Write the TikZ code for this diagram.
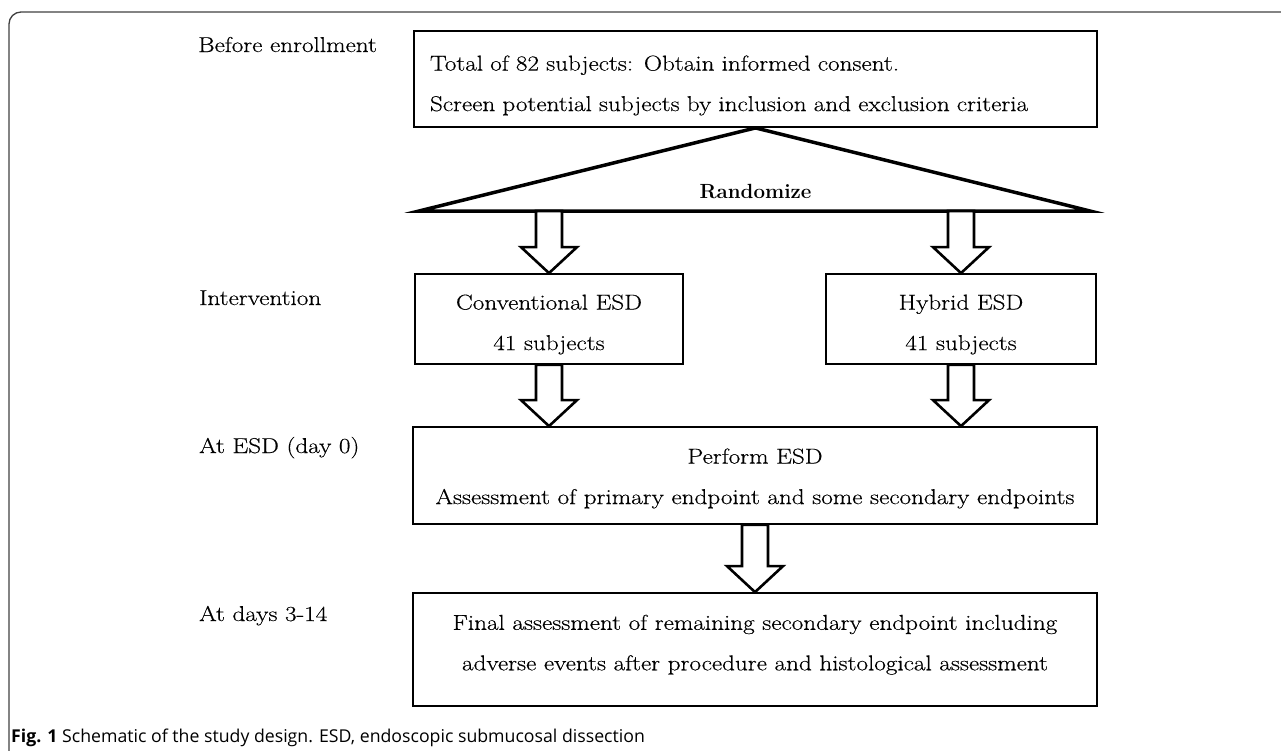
\documentclass[tikz,border=0pt]{standalone}
\usepackage{fontspec}
\newfontfamily\capfont{Open Sans}
\newfontfamily\diagfont{Latin Modern Roman}[FakeStretch=1.17, FakeBold=0.4]
\usepackage{tikz}
\usetikzlibrary{calc,positioning}

%Blockpfeil: #1 Anfang des Schafts, #2 Spitze
\newcommand{\Blockpfeil}[2]{%
  \draw[pfeil] let \p1=#1, \p2=#2 in
    (\x1-\sB,\y1) -- (\x1-\sB,\y2+\kL) -- (\x1-\kB,\y2+\kL) -- (\x1,\y2)
    -- (\x1+\kB,\y2+\kL) -- (\x1+\sB,\y2+\kL) -- (\x1+\sB,\y1) -- cycle;}

\tikzset{
  kasten/.style={draw, line width=1.8pt, inner sep=0pt, align=center,
    font=\diagfont\fontsize{21.5}{40.5}\selectfont},
  etikett/.style={anchor=base west, inner sep=0pt, font=\diagfont\fontsize{21.5}{25}\selectfont},
  pfeil/.style={draw, line width=2.6pt, fill=white, line join=miter},
}

\begin{document}
\begin{tikzpicture}[x=1pt,y=-1pt]
%Masse in Pixel des Bildes (1281 x 750)
  \def\sB{13pt}
  \def\kB{28pt}
  \def\kL{26pt}
\useasboundingbox (0,0) rectangle (1281,750);
\draw[black!75, line width=1.3pt, rounded corners=12pt] (9,752) -- (9,12) -- (1285,12);

%Spalte links
\node[etikett] (l1) at (198,52) {Before enrollment};
\node[etikett] (l2) at (199,305) {Intervention};
\node[etikett] (l3) at (199,453) {At ESD (day 0)};
\node[etikett] (l4) at (199,621) {At days 3-14};

%Kaesten (\rule nur fuer die Lage der Zeilen)
\node[kasten, align=left, text width=651pt, inner xsep=16pt, minimum height=96pt] (enroll) at (755.5,79)
  {\rule{0pt}{28pt}Total of 82 subjects: Obtain informed consent.\\Screen potential subjects by inclusion and exclusion criteria};
\node[kasten, minimum width=268pt, minimum height=90pt] (conv) at (549,319)
  {\rule{0pt}{26pt}Conventional ESD\\41 subjects};
\node[kasten, minimum width=270pt, minimum height=90pt] (hyb) at (961,319)
  {\rule{0pt}{26pt}Hybrid ESD\\41 subjects};
\node[kasten, minimum width=684pt, minimum height=97pt] (perform) at (755,475.5)
  {\rule{0pt}{21pt}Perform ESD\\Assessment of primary endpoint and some secondary endpoints};
\node[kasten, minimum width=684pt, minimum height=113pt] (final) at (755,649.5)
  {Final assessment of remaining secondary endpoint including\\adverse events after procedure and histological assessment\rule[-14pt]{0pt}{0pt}};

%Dreieck zum Randomisieren
\coordinate (randL) at (419,211);
\coordinate (randR) at (1090,211);
\draw[line width=3.5pt, line join=miter] (enroll.south) -- (randL) -- (randR) -- cycle;
\node[anchor=base, inner sep=0pt, font=\fontsize{20.5}{24}\selectfont\bfseries] (rand) at (755.5,198) {Randomize};

\Blockpfeil{(conv.north |- randL)}{(conv.north)}
\Blockpfeil{(hyb.north |- randL)}{(hyb.north)}
\Blockpfeil{(conv.south)}{(perform.north -| conv.south)}
\Blockpfeil{(hyb.south)}{(perform.north -| hyb.south)}
\Blockpfeil{(perform.south)}{(final.north)}

\node[anchor=base west, inner sep=0pt, font=\capfont\fontsize{17.7}{20}\selectfont] (cap) at (11,742)
  {\textbf{Fig. 1} Schematic of the study design. ESD, endoscopic submucosal dissection};
\end{tikzpicture}
\end{document}
